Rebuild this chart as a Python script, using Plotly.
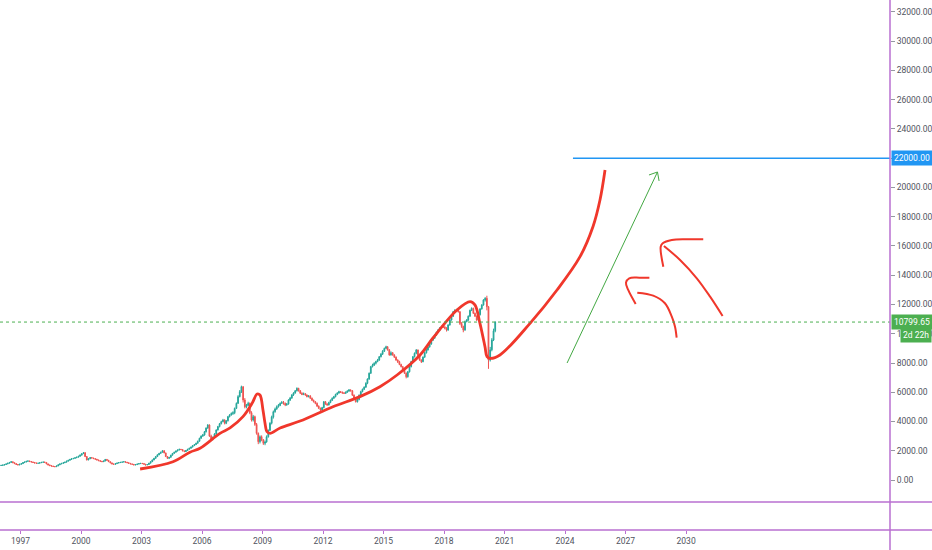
import pandas as pd
import plotly.graph_objects as go

# monthly candles, Jan 1996 .. Jul 2020 (open = previous close)
first_open = 990
closes = [
    1000, 1020, 1060, 1100, 1150, 1200, 1250, 1180, 1120, 1060, 1030, 1080,  # 1996
    1120, 1190, 1230, 1280, 1300, 1260, 1230, 1200, 1160, 1140, 1150, 1180,  # 1997
    1210, 1230, 1200, 1100, 1030, 980, 950, 920, 910, 960, 1040, 1100,  # 1998
    1140, 1180, 1220, 1290, 1350, 1410, 1450, 1480, 1520, 1560, 1620, 1700,  # 1999
    1800, 1870, 1600, 1370, 1450, 1530, 1500, 1460, 1420, 1370, 1320, 1280,  # 2000
    1250, 1300, 1410, 1350, 1250, 1170, 1100, 1070, 1120, 1160, 1190, 1210,  # 2001
    1230, 1250, 1220, 1180, 1140, 1100, 1070, 1030, 1050, 1090, 1120, 1140,  # 2002
    1120, 1080, 1030, 1060, 1150, 1250, 1370, 1480, 1600, 1720, 1820, 1900,  # 2003
    2000, 1850, 1600, 1480, 1550, 1700, 1820, 1900, 1980, 2050, 2100, 2080,  # 2004
    1990, 1940, 2020, 2100, 2170, 2250, 2350, 2420, 2510, 2650, 2850, 3000,  # 2005
    3080, 3300, 3550, 3760, 3000, 2800, 2900, 3150, 3420, 3650, 3850, 3990,  # 2006
    4100, 3880, 4050, 4330, 4450, 4550, 4600, 4900, 5240, 5700, 6040, 6380,  # 2007
    5470, 5010, 5100, 5240, 4600, 4100, 4330, 3800, 3190, 2620, 2960, 2750,  # 2008
    2510, 2600, 2960, 3400, 3880, 4300, 4670, 4850, 5010, 5100, 5240, 5300,  # 2009
    5240, 5130, 5200, 5470, 5600, 5810, 5950, 6100, 6270, 6100, 5930, 5850,  # 2010
    5900, 5810, 5700, 5750, 5590, 5450, 5350, 5240, 5050, 4900, 4790, 4950,  # 2011
    5350, 5200, 5130, 5300, 5450, 5590, 5700, 5850, 5950, 6040, 6000, 5950,  # 2012
    5930, 6000, 6080, 6150, 6100, 5800, 5590, 5350, 5500, 5800, 6040, 6200,  # 2013
    6350, 6610, 6900, 7300, 7750, 7850, 7980, 8100, 8200, 8430, 8600, 8800,  # 2014
    9000, 9110, 8900, 8550, 8700, 8550, 8400, 8200, 8090, 7900, 7750, 7500,  # 2015
    7300, 7060, 7400, 7750, 8100, 8430, 8660, 8890, 8500, 8200, 8090, 8400,  # 2016
    8700, 8890, 9100, 9300, 9570, 9700, 9900, 10100, 10260, 10400, 10480, 10450,  # 2017
    10380, 10260, 10600, 10940, 11200, 11510, 11600, 11620, 11500, 10700, 10500, 10260,  # 2018
    10830, 10940, 11200, 11600, 11740, 11400, 11200, 10940, 11300, 11700, 11970, 12310,  # 2019
    12420, 11850, 8200, 8900, 9570, 10200, 10799.65,  # 2020
]
highs = [
    1030, 1050, 1080, 1120, 1170, 1230, 1280, 1260, 1200, 1140, 1080, 1100,
    1140, 1210, 1250, 1300, 1330, 1320, 1280, 1250, 1220, 1180, 1170, 1200,
    1230, 1250, 1250, 1210, 1120, 1050, 1000, 970, 940, 980, 1060, 1120,
    1160, 1200, 1240, 1310, 1370, 1430, 1480, 1500, 1550, 1590, 1650, 1740,
    1830, 1900, 1890, 1640, 1480, 1560, 1550, 1520, 1480, 1440, 1390, 1340,
    1300, 1320, 1430, 1420, 1370, 1270, 1190, 1120, 1140, 1180, 1210, 1230,
    1250, 1270, 1260, 1230, 1190, 1150, 1110, 1080, 1070, 1110, 1140, 1160,
    1160, 1130, 1090, 1080, 1170, 1270, 1400, 1510, 1630, 1750, 1850, 1930,
    2040, 2030, 1870, 1620, 1570, 1720, 1840, 1930, 2010, 2080, 2130, 2120,
    2100, 2010, 2050, 2130, 2200, 2280, 2380, 2460, 2550, 2690, 2890, 3050,
    3150, 3350, 3600, 3820, 3800, 3100, 2980, 3200, 3460, 3700, 3900, 4050,
    4180, 4150, 4100, 4380, 4500, 4620, 4700, 4950, 5300, 5800, 6150, 6450,
    6400, 5600, 5200, 5350, 5300, 4700, 4450, 4400, 3900, 3250, 3050, 3050,
    2800, 2700, 3050, 3450, 3950, 4400, 4750, 4950, 5100, 5200, 5300, 5400,
    5400, 5300, 5250, 5520, 5680, 5870, 6000, 6150, 6330, 6300, 6150, 6000,
    5980, 5950, 5850, 5800, 5800, 5640, 5500, 5400, 5300, 5100, 4950, 5000,
    5400, 5400, 5250, 5350, 5500, 5650, 5750, 5900, 6000, 6100, 6080, 6050,
    6000, 6050, 6130, 6220, 6200, 6150, 5850, 5650, 5550, 5850, 6100, 6250,
    6400, 6680, 6950, 7350, 7800, 7950, 8050, 8150, 8280, 8480, 8680, 8880,
    9050, 9180, 9150, 8950, 8800, 8750, 8600, 8450, 8250, 8150, 7950, 7800,
    7550, 7350, 7450, 7800, 8150, 8480, 8720, 8950, 8920, 8550, 8250, 8450,
    8750, 8950, 9150, 9350, 9620, 9780, 9950, 10150, 10320, 10450, 10550, 10550,
    10550, 10450, 10650, 11000, 11250, 11560, 11680, 11700, 11650, 11550, 10800, 10550,
    10900, 11000, 11250, 11650, 11800, 11780, 11450, 11250, 11350, 11750, 12020, 12360,
    12500, 12600, 11900, 9100, 9700, 10350, 10850,
]
lows = [
    970, 980, 1000, 1040, 1080, 1130, 1180, 1160, 1100, 1040, 1010, 1010,
    1060, 1100, 1170, 1210, 1260, 1240, 1210, 1180, 1140, 1120, 1120, 1130,
    1160, 1190, 1180, 1080, 1010, 960, 930, 900, 880, 890, 950, 1020,
    1080, 1120, 1160, 1200, 1270, 1330, 1390, 1430, 1460, 1500, 1540, 1600,
    1680, 1780, 1580, 1340, 1350, 1430, 1480, 1440, 1400, 1350, 1300, 1260,
    1230, 1230, 1280, 1330, 1230, 1150, 1080, 1050, 1050, 1100, 1140, 1170,
    1190, 1210, 1200, 1160, 1120, 1080, 1050, 1010, 1010, 1030, 1070, 1100,
    1100, 1060, 1000, 1010, 1040, 1130, 1230, 1350, 1460, 1580, 1700, 1800,
    1880, 1830, 1580, 1450, 1460, 1530, 1680, 1800, 1880, 1960, 2030, 2050,
    1960, 1910, 1920, 2000, 2080, 2150, 2230, 2330, 2400, 2490, 2630, 2830,
    2950, 3030, 3250, 3500, 2950, 2700, 2720, 2850, 3100, 3380, 3600, 3800,
    3950, 3800, 3820, 4000, 4280, 4400, 4450, 4500, 4850, 5200, 5650, 5950,
    5300, 4900, 4900, 5050, 4500, 4000, 4000, 3700, 3100, 2450, 2500, 2650,
    2400, 2380, 2550, 2900, 3350, 3800, 4200, 4600, 4800, 4950, 5050, 5200,
    5150, 5050, 5080, 5150, 5400, 5550, 5750, 5900, 6050, 6050, 5880, 5800,
    5800, 5760, 5650, 5650, 5540, 5400, 5300, 5180, 5000, 4850, 4720, 4750,
    4900, 5150, 5080, 5100, 5250, 5400, 5550, 5650, 5800, 5900, 5950, 5900,
    5880, 5880, 5960, 6030, 6050, 5750, 5540, 5300, 5300, 5450, 5750, 6000,
    6150, 6300, 6550, 6850, 7250, 7700, 7800, 7900, 8050, 8150, 8380, 8550,
    8750, 8950, 8850, 8500, 8500, 8500, 8350, 8150, 8000, 7850, 7700, 7450,
    7250, 6950, 7000, 7350, 7700, 8050, 8380, 8600, 8450, 8150, 8000, 8050,
    8350, 8650, 8850, 9050, 9250, 9500, 9650, 9850, 10050, 10200, 10350, 10400,
    10300, 10150, 10200, 10550, 10900, 11150, 11450, 11550, 11450, 10600, 10400, 10100,
    10200, 10780, 10880, 11150, 11550, 11350, 11150, 10880, 10900, 11250, 11650, 11920,
    12200, 11600, 7600, 8100, 8800, 9500, 10100,
]

last_price = 10799.65
countdown = "2d 22h"
target_level = 22000
target_from = 2024.39

year_ticks = [1997, 2000, 2003, 2006, 2009, 2012, 2015, 2018, 2021, 2024, 2027, 2030]
price_ticks = list(range(0, 32001, 2000))

# hand drawn marks, as (decimal year, price)
curve_t = [2002.93, 2004.56, 2005.40, 2005.90, 2006.89, 2007.39, 2008.03, 2008.48, 2008.73,
           2008.87, 2009.02, 2009.12, 2009.22, 2009.37, 2009.87, 2010.86, 2012.49, 2013.83,
           2014.82, 2015.67, 2016.81, 2017.45, 2018.64, 2019.29, 2019.53, 2019.78, 2020.03,
           2020.13, 2020.28, 2020.77, 2022.26, 2023.60, 2024.74, 2025.38, 2025.73, 2025.98]
curve_v = [752, 1250, 1900, 2170, 3190, 3560, 4330, 5240, 5880,
           5810, 4790, 3900, 3300, 3190, 3560, 4030, 5010, 5700,
           6380, 7180, 8550, 9710, 11620, 12190, 11970, 10710, 9110,
           8430, 8320, 8550, 10710, 12990, 15270, 17320, 19150, 21200]

hook_t = [2027.50, 2027.13, 2027.02, 2027.18, 2027.71, 2028.18]
hook_v = [12035, 12992, 13491, 13792, 13833, 13833]
arc_t = [2027.58, 2028.37, 2028.95, 2029.29, 2029.45, 2029.53]
arc_v = [12808, 12603, 12083, 11167, 10483, 9731]
big_t = [2028.87, 2028.74, 2028.84, 2029.29, 2030.03, 2030.85]
big_v = [14586, 15953, 16186, 16411, 16459, 16459]
diag_t = [2028.90, 2029.70, 2030.53, 2031.19, 2031.81]
diag_v = [16001, 15044, 13792, 12534, 11214]

arrow_t = [2024.10, 2028.58, None, 2028.16, 2028.58, 2028.66]
arrow_v = [8000, 21060, None, 20856, 21060, 20446]


def yr(t):
    if t is None:
        return None
    y = int(t)
    start = pd.Timestamp(year=y, month=1, day=1)
    end = pd.Timestamp(year=y + 1, month=1, day=1)
    return start + (end - start) * (t - y)


months = pd.date_range("1996-01-01", periods=len(closes), freq="MS") + pd.Timedelta(days=14)
opens = [first_open] + closes[:-1]

x_lo, x_hi = yr(1995.984), yr(2040.11)
purple = "#b96fd0"
red = "#f0372b"

fig = go.Figure()
fig.add_trace(go.Candlestick(
    x=months, open=opens, high=highs, low=lows, close=closes,
    increasing=dict(line=dict(color="#26a69a", width=1), fillcolor="#26a69a"),
    decreasing=dict(line=dict(color="#ef5350", width=1), fillcolor="#ef5350"),
    whiskerwidth=0, hoverinfo="skip", showlegend=False,
))

fig.add_scatter(x=[yr(t) for t in curve_t], y=curve_v, mode="lines",
                line=dict(color=red, width=2.8, shape="spline", smoothing=1.0),
                showlegend=False, hoverinfo="skip")
for tt, vv in [(hook_t, hook_v), (arc_t, arc_v), (big_t, big_v), (diag_t, diag_v)]:
    fig.add_scatter(x=[yr(t) for t in tt], y=vv, mode="lines",
                    line=dict(color=red, width=2, shape="spline", smoothing=1.0),
                    showlegend=False, hoverinfo="skip")

fig.add_scatter(x=[yr(t) for t in arrow_t], y=arrow_v, mode="lines",
                line=dict(color="#43a843", width=1), showlegend=False, hoverinfo="skip")

fig.add_scatter(x=[yr(target_from), x_hi], y=[target_level, target_level], mode="lines",
                line=dict(color="#2196f3", width=1.3), showlegend=False, hoverinfo="skip")

# price line
fig.add_shape(type="line", xref="paper", yref="y", x0=0, x1=1, y0=last_price, y1=last_price,
              line=dict(color="#4caf50", width=1, dash="dot"))
# pane borders
for yp in [0, 28 / 530]:
    fig.add_shape(type="line", xref="paper", yref="paper", x0=0, x1=1.05, y0=yp, y1=yp,
                  line=dict(color=purple, width=1.5))
fig.add_shape(type="line", xref="paper", yref="paper", x0=1, x1=1, y0=-0.05, y1=1,
              line=dict(color=purple, width=1.5))

lab_font = dict(family="Roboto", size=8.5, color="white")
fig.add_annotation(x=1, xref="paper", y=target_level, yref="y", text="%.2f" % target_level,
                   showarrow=False, xanchor="left", xshift=1, bgcolor="#2196f3",
                   font=lab_font, borderpad=2)
fig.add_annotation(x=1, xref="paper", y=last_price, yref="y", text="%.2f" % last_price,
                   showarrow=False, xanchor="left", xshift=1, bgcolor="#4caf50",
                   font=lab_font, borderpad=2)
fig.add_annotation(x=1, xref="paper", y=last_price, yref="y", text=countdown,
                   showarrow=False, xanchor="left", xshift=10, yshift=-13, bgcolor="#4caf50",
                   font=lab_font, borderpad=2)

# the 22000 tick label sits under the blue price box
price_text = ["" if v == target_level else "%.2f" % v for v in price_ticks]

tick_font = dict(family="Roboto", size=8.5, color="#50535e")
fig.update_layout(
    width=932,
    height=550,
    autosize=False,
    plot_bgcolor="white",
    paper_bgcolor="white",
    margin=dict(l=0, r=42, t=0, b=20, pad=0),
    showlegend=False,
    xaxis=dict(
        type="date", range=[x_lo, x_hi], showgrid=False, zeroline=False,
        rangeslider=dict(visible=False),
        tickvals=[pd.Timestamp(year=y, month=1, day=1) for y in year_ticks],
        ticktext=[str(y) for y in year_ticks],
        ticks="outside", ticklen=3, tickcolor=purple, tickfont=tick_font,
    ),
    yaxis=dict(
        side="right", range=[-3419, 32820], showgrid=False, zeroline=False,
        tickvals=price_ticks, ticktext=price_text,
        ticks="outside", ticklen=4, tickcolor="#9598a1", tickfont=tick_font,
    ),
)

fig.write_html("out.html", config={"displayModeBar": False},
               post_script="document.body.style.margin='0';")
